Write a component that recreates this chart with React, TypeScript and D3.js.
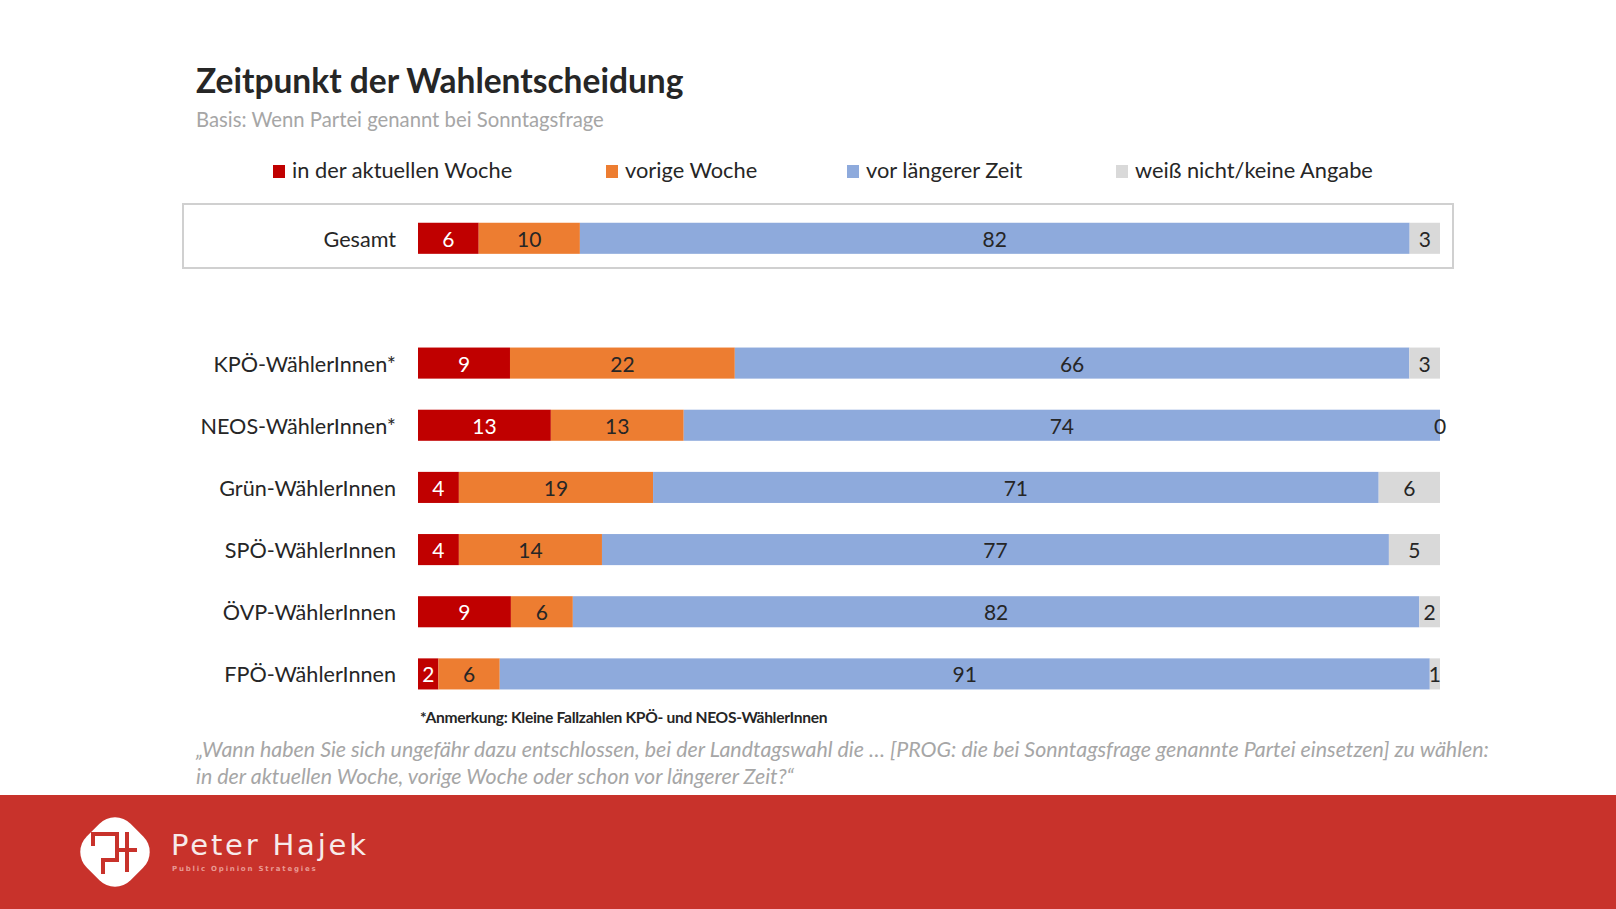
import React from "react";
import * as d3 from "d3";

const seriesNames = ["in der aktuellen Woche", "vorige Woche", "vor längerer Zeit", "weiß nicht/keine Angabe"];
const seriesKeys = ["aktuell", "vorige", "laenger", "wn"];
const seriesColors = ["#c00000", "#ed7d31", "#8eaadc", "#d9d9d9"];
const labelColors = ["#ffffff", "#262626", "#262626", "#262626"];

const totalLabel = "Gesamt";
const totalValues = [6, 10, 82, 3];

const groups = ["KPÖ-WählerInnen*", "NEOS-WählerInnen*", "Grün-WählerInnen", "SPÖ-WählerInnen", "ÖVP-WählerInnen", "FPÖ-WählerInnen"];
const aktuell = [9, 13, 4, 4, 9, 2];
const vorige = [22, 13, 19, 14, 6, 6];
const laenger = [66, 74, 71, 77, 82, 91];
const wn = [3, 0, 6, 5, 2, 1];

const W = 1616;
const H = 909;
const FONT = "Lato, 'Open Sans', sans-serif";

type Row = { label: string; [k: string]: any };

function makeRows(): Row[] {
  const rows: Row[] = [{ label: totalLabel, aktuell: totalValues[0], vorige: totalValues[1], laenger: totalValues[2], wn: totalValues[3] }];
  groups.forEach((g, i) => rows.push({ label: g, aktuell: aktuell[i], vorige: vorige[i], laenger: laenger[i], wn: wn[i] }));
  return rows;
}

export default function App() {
  const rows = makeRows();
  const stack = d3.stack<Row>().keys(seriesKeys).offset(d3.stackOffsetExpand);
  const stacked = stack(rows);

  const x = d3.scaleLinear().domain([0, 1]).range([418, 1440]);
  const y = d3.scaleBand<string>().domain(groups).range([332, 705]).paddingInner(0.5).paddingOuter(0.25);
  const yTotal = d3.scaleBand<string>().domain([totalLabel]).range([207, 270]).paddingInner(0.5).paddingOuter(0.25);

  const yFor = (label: string) => (label === totalLabel ? yTotal(label)! : y(label)!);
  const bw = y.bandwidth();

  const legendX = [273, 606, 847, 1116];

  return (
    <svg width={W} height={H} style={{ position: "absolute", left: 0, top: 0, background: "#fff" }} fontFamily={FONT}>
      <rect x={0} y={0} width={W} height={H} fill="#ffffff" />
      <text x={196} y={93} fontSize={33.5} fontWeight={700} fill="#262626">Zeitpunkt der Wahlentscheidung</text>
      <text x={196} y={127} fontSize={20.3} fill="#a6a6a6">Basis: Wenn Partei genannt bei Sonntagsfrage</text>

      {seriesNames.map((n, i) => (
        <g key={n}>
          <rect x={legendX[i]} y={165} width={12} height={13} fill={seriesColors[i]} />
          <text x={legendX[i] + 19} y={178} fontSize={21.8} fill="#262626">{n}</text>
        </g>
      ))}

      <rect x={183} y={204} width={1270} height={64} fill="none" stroke="#d0d0d0" strokeWidth={2} />

      {rows.map((r) => (
        <text key={r.label} x={396} y={yFor(r.label) + bw / 2 + 1} dy="0.35em" textAnchor="end" fontSize={21.6} fill="#262626">
          {r.label}
        </text>
      ))}

      {stacked.map((s, si) => (
        <g key={s.key}>
          {s.map((d, ri) => {
            const r = rows[ri];
            const x0 = x(d[0]);
            const x1 = x(d[1]);
            const yy = yFor(r.label);
            return (
              <g key={r.label}>
                <rect x={x0} y={yy} width={Math.max(0, x1 - x0)} height={bw} fill={seriesColors[si]} />
              </g>
            );
          })}
        </g>
      ))}
      {stacked.map((s, si) => (
        <g key={s.key + "l"}>
          {s.map((d, ri) => {
            const r = rows[ri];
            const x0 = x(d[0]);
            const x1 = x(d[1]);
            const yy = yFor(r.label);
            const v = r[s.key];
            return (
              <text key={r.label} x={(x0 + x1) / 2} y={yy + bw / 2 + 1} dy="0.36em" textAnchor="middle" fontSize={21}
                fill={v === 0 ? "#262626" : labelColors[si]}>
                {v}
              </text>
            );
          })}
        </g>
      ))}

      <text x={420} y={723} fontSize={15.6} fontWeight={700} fill="#262626" letterSpacing={-0.3}>*Anmerkung: Kleine Fallzahlen KPÖ- und NEOS-WählerInnen</text>
      <text x={196} y={757} fontSize={21.4} fontStyle="italic" fill="#a6a6a6">„Wann haben Sie sich ungefähr dazu entschlossen, bei der Landtagswahl die … [PROG: die bei Sonntagsfrage genannte Partei einsetzen] zu wählen:</text>
      <text x={196} y={784} fontSize={21.4} fontStyle="italic" fill="#a6a6a6">in der aktuellen Woche, vorige Woche oder schon vor längerer Zeit?“</text>

      <rect x={0} y={795} width={W} height={H - 795} fill="#c8322b" />
      <g transform="translate(115,852)">
        <rect x={-31} y={-31} width={62} height={62} rx={22} fill="#ffffff" transform="rotate(45)" />
        <path d="M-22,-6 V-18 H2 V8 H-12 V22" fill="none" stroke="#c8322b" strokeWidth={4} />
        <path d="M2,-2 H22 M12,-20 V20" fill="none" stroke="#c8322b" strokeWidth={4} />
      </g>
      <text x={171} y={855} fontSize={29} fill="#f7eaea" letterSpacing={2.8} fontFamily="'DejaVu Sans', sans-serif">Peter Hajek</text>
      <text x={172} y={871} fontSize={7} fontWeight={700} fill="#e89a94" letterSpacing={1.8} fontFamily="'DejaVu Sans', sans-serif">Public Opinion Strategies</text>
    </svg>
  );
}
